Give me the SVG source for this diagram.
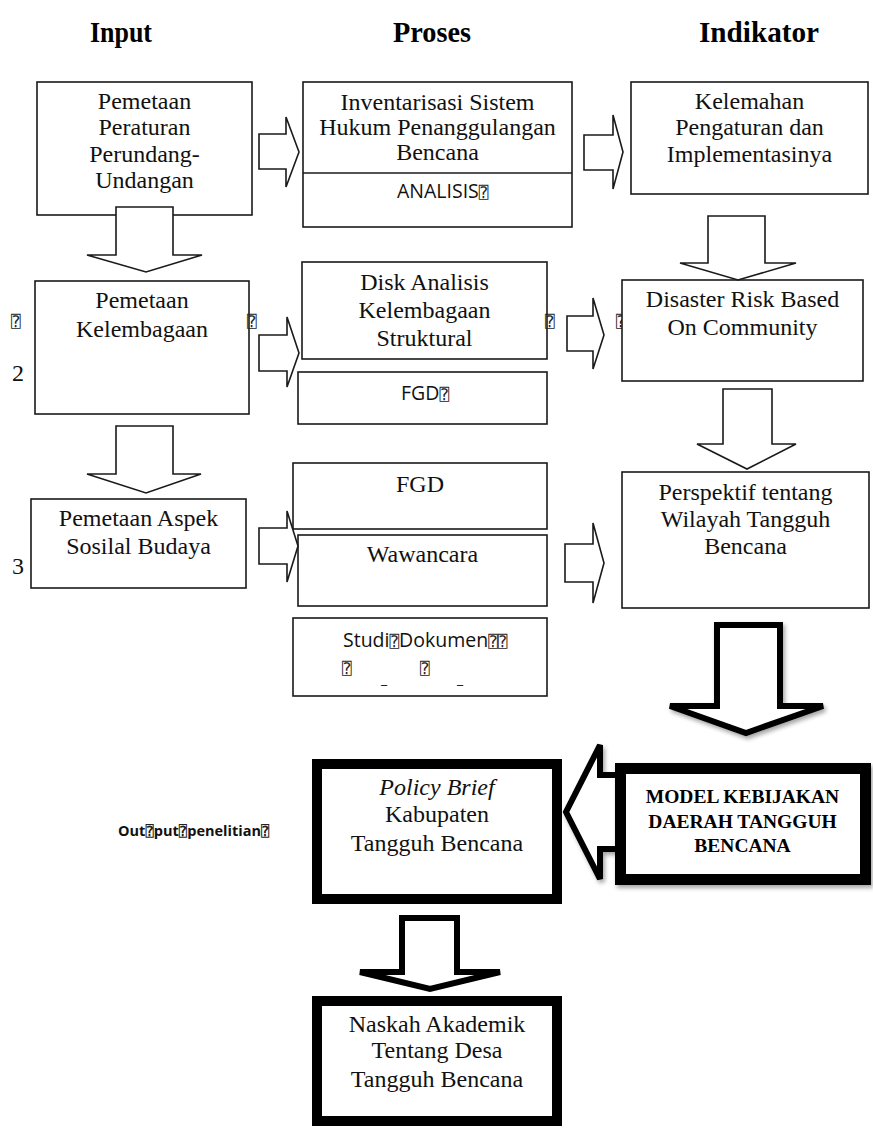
<svg xmlns="http://www.w3.org/2000/svg" width="873" height="1128" viewBox="0 0 873 1128">
<style>
.bg{fill:#fff}
.b{fill:#fff;stroke:#1a1a1a;stroke-width:1.6}
.tb{fill:#fff;stroke:#000;stroke-width:10}
.ar{fill:#fff;stroke:#1a1a1a;stroke-width:1.6;stroke-linejoin:miter}
.ta{fill:#fff;stroke:#000;stroke-width:6;stroke-linejoin:miter}
.t{font-family:"Liberation Serif","Times New Roman",serif;font-size:24px;fill:#111;text-anchor:middle}
.h{font-family:"Liberation Serif","Times New Roman",serif;font-size:30px;font-weight:bold;fill:#000}
.s{font-family:"Open Sans","Noto Sans",sans-serif;font-size:19.5px;fill:#111}
.q{font-family:"DejaVu Sans Mono","DejaVu Sans",monospace;font-size:16px;fill:#222}
.m{font-family:"Liberation Serif","Times New Roman",serif;font-size:19.5px;font-weight:bold;fill:#000;text-anchor:middle}
</style>
<defs>
<filter id="sh" x="-10%" y="-10%" width="130%" height="130%">
<feDropShadow dx="2" dy="3" stdDeviation="2" flood-color="#000" flood-opacity="0.35"/>
</filter>
</defs>
<rect class="bg" x="0" y="0" width="873" height="1128"/>

<g id="headers">
<text class="h" x="90" y="42" textLength="62" lengthAdjust="spacingAndGlyphs">Input</text>
<text class="h" x="393" y="42" textLength="78" lengthAdjust="spacingAndGlyphs">Proses</text>
<text class="h" x="699" y="42" textLength="120" lengthAdjust="spacingAndGlyphs">Indikator</text>
</g>

<g id="n-peraturan">
<rect class="b" x="37" y="82" width="215" height="133"/>
<text class="t" x="144.5" y="109">Pemetaan</text>
<text class="t" x="144.5" y="135">Peraturan</text>
<text class="t" x="144.5" y="162">Perundang-</text>
<text class="t" x="144.5" y="188">Undangan</text>
</g>

<g id="n-inventarisasi">
<rect class="b" x="303" y="82" width="269" height="145"/>
<line class="b" x1="303" y1="173" x2="572" y2="173"/>
<text class="t" x="437.5" y="110">Inventarisasi Sistem</text>
<text class="t" x="437.5" y="135">Hukum Penanggulangan</text>
<text class="t" x="437.5" y="160">Bencana</text>
<text class="s" x="397" y="198">ANALISIS<tspan class="q">⍰</tspan></text>
</g>

<g id="n-kelemahan">
<rect class="b" x="631" y="82" width="237" height="112"/>
<text class="t" x="749.5" y="109">Kelemahan</text>
<text class="t" x="749.5" y="135">Pengaturan dan</text>
<text class="t" x="749.5" y="162">Implementasinya</text>
</g>

<g id="n-kelembagaan">
<text class="q" x="11" y="327">⍰</text>
<text class="t" x="12" y="381" style="text-anchor:start">2</text>
<rect class="b" x="35" y="281" width="214" height="133"/>
<text class="t" x="142" y="308">Pemetaan</text>
<text class="t" x="142" y="337">Kelembagaan</text>
<text class="q" x="247" y="327">⍰</text>
</g>

<g id="n-disk">
<rect class="b" x="302" y="262" width="245" height="97"/>
<text class="t" x="424.5" y="290">Disk Analisis</text>
<text class="t" x="424.5" y="318">Kelembagaan</text>
<text class="t" x="424.5" y="346">Struktural</text>
<text class="q" x="545" y="327">⍰</text>
</g>

<g id="n-fgd1">
<rect class="b" x="298" y="372" width="249" height="52"/>
<text class="s" x="401" y="400">FGD<tspan class="q">⍰</tspan></text>
</g>

<g id="n-disaster">
<text class="q" x="616" y="327">⍰</text>
<rect class="b" x="622" y="280" width="241" height="101"/>
<text class="t" x="742.5" y="307">Disaster Risk Based</text>
<text class="t" x="742.5" y="335">On Community</text>
</g>

<g id="n-aspek">
<text class="t" x="12" y="574" style="text-anchor:start">3</text>
<rect class="b" x="31" y="499" width="215" height="89"/>
<text class="t" x="138.5" y="526">Pemetaan Aspek</text>
<text class="t" x="138.5" y="554">Sosilal Budaya</text>
</g>

<g id="n-fgd2">
<rect class="b" x="293" y="463" width="254" height="66"/>
<text class="t" x="420" y="492">FGD</text>
</g>

<g id="n-wawancara">
<rect class="b" x="298" y="535" width="249" height="71"/>
<text class="t" x="422.5" y="562">Wawancara</text>
</g>

<g id="n-studi">
<rect class="b" x="293" y="618" width="254" height="78"/>
<text class="s" x="343" y="647">Studi<tspan class="q">⍰</tspan>Dokumen<tspan class="q">⍰⍰</tspan></text>
<text class="q" x="342" y="674">⍰</text>
<text class="q" x="420" y="674">⍰</text>
<text class="s" x="381" y="684" style="font-size:14px">_</text>
<text class="s" x="457" y="684" style="font-size:14px">_</text>
</g>

<g id="n-perspektif">
<rect class="b" x="622" y="472" width="247" height="136"/>
<text class="t" x="745.5" y="500">Perspektif tentang</text>
<text class="t" x="745.5" y="527">Wilayah Tangguh</text>
<text class="t" x="745.5" y="554">Bencana</text>
</g>

<g id="n-policy">
<rect class="tb" x="317" y="764" width="240" height="135"/>
<text class="t" x="437" y="795"><tspan font-style="italic">Policy Brief</tspan></text>
<text class="t" x="437" y="822">Kabupaten</text>
<text class="t" x="437" y="851">Tangguh Bencana</text>
</g>

<g id="n-output-label">
<text class="s" x="118" y="836" style="font-size:14.5px;font-weight:bold">Out<tspan class="q" style="font-size:14px">⍰</tspan>put<tspan class="q" style="font-size:14px">⍰</tspan>penelitian<tspan class="q" style="font-size:14px">⍰</tspan></text>
</g>

<g id="n-naskah">
<rect class="tb" x="317" y="1001" width="240" height="120"/>
<text class="t" x="437" y="1032">Naskah Akademik</text>
<text class="t" x="437" y="1058">Tentang Desa</text>
<text class="t" x="437" y="1087">Tangguh Bencana</text>
</g>

<g id="connectors">
<polygon class="ar" points="259,134 286,134 286,117 299,152 286,187 286,169 259,169"/>
<polygon class="ar" points="584,135 613,135 613,115 623,152 613,189 613,170 584,170"/>
<polygon class="ar" points="116,207 173,207 173,255 202,255 146,272 87,255 116,255"/>
<polygon class="ar" points="708,216 765,216 765,263 796,263 738,280 680,263 708,263"/>
<polygon class="ar" points="259,335 287,335 287,317 299,353 287,387 287,371 259,371"/>
<polygon class="ar" points="567,316 593,316 593,298 604,335 593,369 593,351 567,351"/>
<polygon class="ar" points="723,389 772,389 772,444 796,444 747,469 697,444 723,444"/>
<polygon class="ar" points="116,426 173,426 173,474 201,474 146,493 87,474 116,474"/>
<polygon class="ar" points="259,528 287,528 287,511 298,546 287,582 287,564 259,564"/>
<polygon class="ar" points="565,544 593,544 593,523 604,563 593,603 593,582 565,582"/>
<polygon class="ta" filter="url(#sh)" points="717,625 780,625 780,706 823,706 746,733 670,706 717,706"/>
<polygon class="ta" filter="url(#sh)" points="640,775 600,775 600,745 566,812 600,879 600,849 640,849"/>
<polygon class="ta" points="402,918 457,918 457,972 500,972 430,989 360,972 402,972"/>
</g>

<g id="n-model">
<rect class="tb" filter="url(#sh)" x="620.5" y="768.5" width="245" height="111" style="stroke-width:11"/>
<text class="m" x="742.5" y="803">MODEL KEBIJAKAN</text>
<text class="m" x="742.5" y="828">DAERAH TANGGUH</text>
<text class="m" x="742.5" y="852">BENCANA</text>
</g>
</svg>
